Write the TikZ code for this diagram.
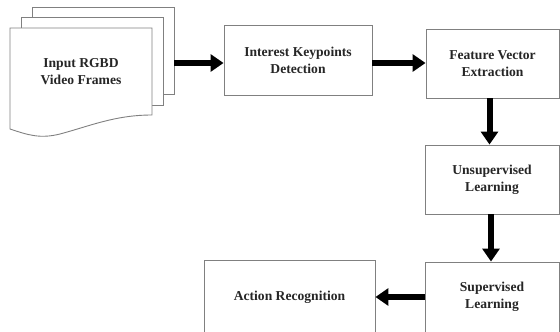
\documentclass[tikz,border=0pt]{standalone}
\usepackage{fontspec}
\setmainfont{Liberation Serif}
\usetikzlibrary{arrows.meta}
\tikzset{
  box/.style={draw=black!50, line width=0.9pt, fill=white, align=center,
    font=\fontsize{13.6}{17}\selectfont\bfseries, text=black!85, inner sep=0pt},
  sheet/.style={draw=black!50, line width=0.9pt, fill=white},
  bigarrow/.style={line width=6pt, black, -{Triangle[length=13pt,width=17pt]}, shorten >=0pt}
}
\begin{document}
\begin{tikzpicture}[x=1pt,y=-1pt]
\useasboundingbox (0,0) rectangle (560,332);
\clip (0,0) rectangle (560,332);
% document stack
\draw[sheet] (32,7) rectangle (174,94);
\draw[sheet] (21,17) rectangle (163,105);
\draw[sheet] (10,28) -- (152,28) -- (152,115)
  .. controls (115,115) and (90,126) .. (60,134)
  .. controls (40,139) and (28,135) .. (10,129) -- cycle;
\node[box, draw=none, fill=none] (input) at (81,72) {Input RGBD\\Video Frames};
\coordinate (inR) at (174,63);
% boxes
\node[box, minimum width=148pt, minimum height=70pt] (ikd) at (298,60) {Interest Keypoints\\Detection};
\node[box, minimum width=133pt, minimum height=69pt] (fve) at (492.5,63.5) {Feature Vector\\Extraction};
\node[box, minimum width=134pt, minimum height=69pt] (ul) at (492,179.5) {Unsupervised\\Learning};
\node[box, minimum width=134pt, minimum height=70pt] (sl) at (492,297) {Supervised\\Learning};
\node[box, minimum width=171pt, minimum height=74pt] (ar) at (289.5,297) {Action Recognition};
% arrows
\draw[bigarrow] (inR) -- (ikd.west |- inR);
\draw[bigarrow] (ikd.east |- inR) -- (fve.west |- inR);
\draw[bigarrow] (fve.south -| 489.5,0) -- (ul.north -| 489.5,0);
\draw[bigarrow] (ul.south -| 491,0) -- (sl.north -| 491,0);
\draw[bigarrow] (sl.west) -- (ar.east);
\end{tikzpicture}
\end{document}
